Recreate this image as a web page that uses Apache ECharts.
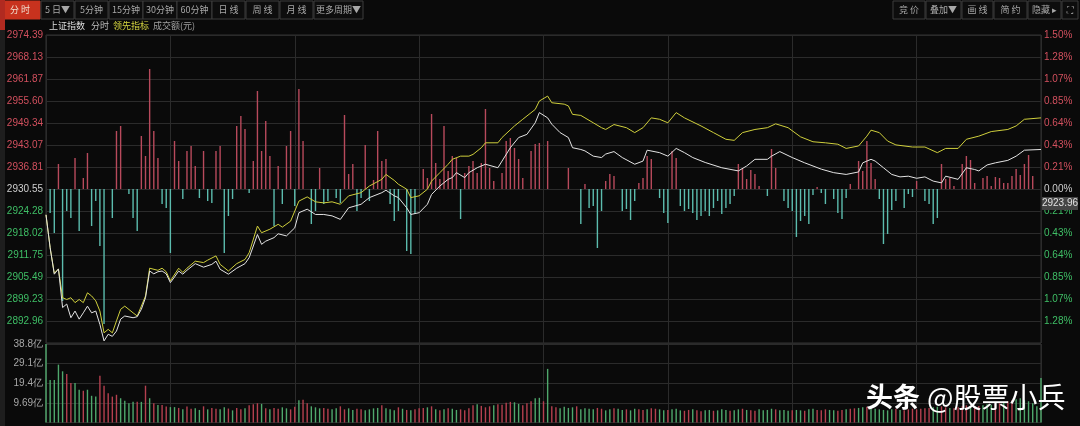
<!DOCTYPE html>
<html><head><meta charset="utf-8">
<script src="https://cdn.jsdelivr.net/npm/echarts@6/dist/echarts.min.js"></script>
<style>html,body{margin:0;padding:0;background:#0a0a0a;}#c{width:1080px;height:426px;}</style>
</head><body><div id="c"></div>
<script>
// ---------------- DATA ----------------
const prevClose = 2930.55;
const step = 6.26286; // index points per grid row
const leftTickLabels = ['2974.39','2968.13','2961.87','2955.60','2949.34','2943.07','2936.81','2930.55','2924.28','2918.02','2911.75','2905.49','2899.23','2892.96',''];
const rightTickLabels = ['1.50%','1.28%','1.07%','0.85%','0.64%','0.43%','0.21%','0.00%','0.21%','0.43%','0.64%','0.85%','1.07%','1.28%',''];
const volTickLabels = ['','9.69亿','19.4亿','29.1亿','38.8亿'];
const legendNames = ['上证指数','分时','领先指标','成交额(元)'];
const lastPriceTag = '2923.96';

// minute index (0 = 09:30, 120 = 11:30/13:00, 240 = 15:00) and index value
const indexMinutes = [0,1,2,3,4,5,6,7,8,9,10,11,12,13,14,15,16,17,18,19,21,22,23,24,25,26,27,28,29,30,31,32,33,34,36,38,40,41,42,44,46,48,49,51,52,53,55,56,58,60,61,63,65,67,69,71,73,76,78,81,82,84,85,87,88,90,92,93,95,97,98,99,101,102,104,106,109,110,112,114,116,118,119,121,122,124,126,127,129,130,132,134,135,137,139,142,144,145,148,150,152,154,156,159,163,167,169,171,174,175,177,180,183,187,190,193,196,197,199,200,202,204,206,208,210,212,214,216,217,220,222,224,225,227,229,232,234,236,240];
const indexValues = [2923.2,2913.8,2906.3,2907.8,2896.8,2897.8,2893.9,2895.8,2893.5,2895.3,2897.2,2895.3,2895.8,2892.0,2887.3,2889.2,2888.6,2890.1,2893.5,2894.4,2893.9,2894.2,2896.3,2899.6,2907.2,2906.4,2907.0,2907.2,2906.4,2903.9,2905.5,2907.2,2906.3,2907.4,2909.3,2908.3,2909.1,2910.0,2907.7,2906.3,2908.0,2909.3,2911.0,2917.6,2914.8,2915.7,2916.7,2917.8,2917.2,2919.5,2923.8,2924.8,2923.3,2923.3,2922.9,2921.9,2925.2,2926.2,2928.1,2929.5,2930.2,2928.6,2928.1,2925.2,2923.3,2923.8,2926.2,2929.0,2931.4,2933.3,2933.8,2935.2,2933.8,2935.2,2936.6,2937.6,2936.6,2938.5,2942.3,2945.2,2946.1,2949.4,2952.3,2950.8,2949.0,2946.6,2945.2,2942.3,2941.8,2941.4,2939.9,2939.5,2940.5,2941.2,2939.5,2937.6,2938.5,2941.6,2940.9,2939.9,2942.1,2940.9,2939.5,2938.1,2936.6,2935.7,2937.1,2939.0,2939.0,2939.9,2941.2,2939.5,2938.0,2936.2,2935.2,2934.7,2935.4,2938.0,2939.0,2938.5,2936.6,2934.7,2934.0,2934.2,2933.6,2934.0,2932.8,2932.3,2934.2,2933.3,2936.6,2936.1,2935.7,2937.4,2938.0,2938.7,2939.9,2941.6,2941.8];

const leadMinutes = [0,1,2,3,4,5,6,7,8,9,10,11,12,13,14,15,16,17,18,19,21,22,23,24,25,27,28,29,30,32,33,34,36,38,39,41,42,44,46,48,49,51,52,54,56,57,59,61,63,65,67,69,71,73,76,78,81,82,84,85,87,88,90,92,93,95,97,98,100,102,103,105,106,109,110,113,115,118,119,121,122,125,126,127,129,130,132,134,135,137,140,142,144,146,148,150,152,154,158,161,164,166,168,171,174,176,179,182,185,188,191,193,196,198,199,201,203,205,209,212,215,217,220,222,225,228,232,234,236,240];
const leadValues = [2923.2,2913.8,2906.6,2907.8,2899.6,2899.1,2899.6,2898.2,2899.1,2898.2,2901.0,2900.1,2898.7,2895.8,2889.6,2890.6,2889.6,2893.0,2896.3,2897.2,2895.3,2894.4,2897.2,2900.1,2908.0,2907.4,2908.0,2907.0,2904.4,2908.0,2906.8,2908.0,2910.0,2909.6,2910.3,2911.5,2909.1,2907.2,2909.3,2910.5,2912.4,2920.0,2918.1,2919.1,2920.5,2919.7,2921.4,2927.1,2928.3,2926.9,2926.6,2926.9,2926.2,2928.6,2929.5,2931.4,2933.3,2934.7,2933.0,2931.9,2930.5,2928.1,2928.6,2930.5,2932.8,2935.2,2937.6,2939.0,2939.9,2939.9,2940.4,2942.3,2943.7,2943.7,2945.2,2948.5,2950.4,2953.2,2955.6,2957.0,2955.1,2954.7,2954.2,2951.8,2951.5,2950.8,2949.4,2948.0,2947.5,2948.9,2948.0,2946.6,2948.0,2950.8,2950.4,2949.4,2952.3,2950.8,2948.5,2946.6,2944.7,2944.4,2946.6,2947.5,2948.0,2949.1,2948.0,2945.4,2944.0,2943.7,2943.3,2942.1,2942.8,2945.6,2947.3,2946.6,2944.2,2943.1,2942.5,2942.5,2940.9,2942.1,2942.1,2944.7,2945.6,2946.9,2947.5,2948.5,2950.4,2950.8];

// red/green strength bars: minute and strength (positive = red, negative = green)
const strengthMinutes = [1,2,3,4,5,6,7,8,9,10,11,12,13,14,16,17,18,20,21,22,23,24,25,26,27,28,29,30,31,32,33,34,35,36,37,38,39,40,41,42,43,44,45,46,47,48,49,50,51,52,53,54,55,56,57,58,59,60,61,62,64,65,66,67,68,70,71,72,73,74,75,76,77,78,79,80,81,82,83,84,85,87,88,89,91,92,93,94,95,96,97,98,99,100,101,102,103,104,105,106,107,108,110,111,112,113,114,115,117,118,119,121,126,129,130,131,132,133,134,135,136,137,139,140,141,142,143,144,145,146,148,149,150,151,152,153,154,155,156,157,158,159,160,161,162,163,164,165,166,167,168,169,170,171,172,174,175,176,178,179,180,181,182,183,184,185,186,187,188,190,191,192,193,194,196,197,198,199,200,201,202,203,204,205,207,208,209,210,212,213,214,215,216,217,218,219,221,222,223,224,226,227,228,229,230,231,232,233,234,235,236,237,238];
const strengthValues = [-24,-44,25,-112,-22,-29,31,-42,11,36,-37,-12,-57,-135,-29,58,63,-5,-29,-42,53,33,120,58,31,-15,-19,-64,48,28,-10,38,43,23,-9,38,-12,-14,38,43,-64,-27,-10,63,73,60,-4,28,98,38,68,33,-37,23,-15,43,58,-17,100,48,-35,-22,21,-15,-12,-9,-14,74,15,25,-22,-9,44,-12,9,58,28,30,-15,-32,-22,-62,-65,-25,20,11,75,26,10,63,18,33,31,-30,16,23,28,16,26,80,21,8,16,48,51,41,30,11,38,45,46,48,21,-35,5,-19,-17,-59,-22,8,15,13,-22,-20,-31,-12,6,11,33,30,-9,-24,-34,38,31,-17,-22,-20,-24,-31,-27,-22,-27,-19,-12,-25,-19,-15,-7,25,21,10,19,15,3,-7,40,21,-12,-19,-22,-48,-32,-27,-35,-6,2,-4,-15,-10,-24,-30,-9,5,28,18,48,26,10,-10,-55,-45,-21,-12,-19,-5,-8,8,-12,-15,-35,-29,25,10,11,3,25,33,29,6,11,13,3,12,11,6,6,13,20,14,25,34,13];

// turnover per minute (亿元), minutes 0..240
const volume = [39,21,21,28.6,25.3,24,19.5,19.5,16.2,15.7,16.2,13.2,12.8,23.1,18.2,14.5,12.8,13.7,12,10.7,9.5,10.2,10.2,10.2,18.2,12,9.5,8.7,8.7,7.9,7.6,
7.6,7.2,6.5,7.9,6.8,7.0,6.2,8.0,6.5,7.2,6.8,6.5,7.5,6.9,6.0,7.2,6.5,7.0,8.5,9.0,9.5,9.2,7.0,6.5,7.2,6.8,7.5,7.0,6.5,7.8,
11,11.2,9.5,8.0,7.5,7.0,7.2,6.8,6.5,7.0,8.0,6.5,7.0,6.2,6.8,6.5,6.0,6.5,7.0,7.2,8.5,7.0,6.5,6.0,7.5,6.8,6.2,6.0,6.5,7.0,
7.2,7.5,8.0,6.5,6.0,6.5,7.0,6.8,6.2,6.5,6.0,7.0,8.5,9.0,8.2,7.5,8.0,8.5,9.0,8.8,9.8,10.2,10.0,9.2,8.5,9.5,10.5,12.0,12.2,10.5,
26.5,8.0,7.5,7.0,7.8,7.2,7.5,8.0,6.5,7.0,6.8,6.5,7.2,6.8,6.0,6.5,7.0,6.8,6.2,6.5,6.0,6.8,6.5,6.2,6.5,7.0,6.8,6.5,6.0,6.2,
6.5,6.8,6.0,5.8,6.2,6.5,6.0,5.5,6.0,6.2,5.8,6.0,6.5,6.2,5.8,6.0,6.5,6.8,6.2,6.0,5.8,6.5,6.0,6.2,6.8,6.5,6.0,6.2,5.8,6.0,
6.2,6.0,5.8,6.5,6.8,6.2,6.0,6.5,6.2,6.0,5.8,6.2,6.5,6.8,7.0,7.2,7.5,7.8,7.0,6.8,6.5,6.2,6.0,6.5,6.8,6.2,6.0,6.5,6.8,6.5,
6.8,7.0,7.2,7.5,7.8,8.0,7.5,7.2,7.0,7.5,8.0,8.5,8.0,7.8,8.2,8.5,9.0,8.8,9.2,9.5,10.0,10.5,11.0,11.5,12.0,11.0,10.5,9.5,8.0,22];
// price direction of each minute: u = up (red), d = down (green)
const volumeDir = 'ddddduudduddduuuuuddddudududuudduduudduduudduduuduuududuudduuduuddduudduudduuddddudddududuuududududduuuuduuuduuuudduuudduduuddddudddduudduddudduuduudduddduuduuddudddudduduudddduddduddudduuudduuduuddudddddduduuuuuuudduuduuuuduuddduuduu';

// ---------------- CHART ----------------
const toU = p => (p - prevClose) / step;
const chart = echarts.init(document.getElementById('c'), null, {renderer: 'canvas'});
const RED = '#d2505e', GRN = '#3fbf66', GRID = '#2b2b2b';
const labelColor = v => (Math.round(v) > 0 ? RED : Math.round(v) < 0 ? GRN : '#cfcfcf');

function button(x, w, txt, active) {
  return {type: 'group', children: [
    {type: 'rect', shape: {x: x, y: 1, width: w, height: 18},
      style: {fill: active ? '#c8321e' : '#0d0d0d', stroke: active ? '#c8321e' : '#3c3c3c', lineWidth: 1}},
    {type: 'text', x: x + w / 2, y: 10, style: {text: txt, fill: active ? '#f0e0d0' : '#a8a8a8', font: '9px "Noto Sans CJK SC"', textAlign: 'center', textVerticalAlign: 'middle'}}
  ]};
}
const topButtons = [[0,40,'分 时',true],[41,33,'5 日▼'],[75,33,'5分钟'],[109,34,'15分钟'],[143,34,'30分钟'],[177,35,'60分钟'],[212,33,'日 线'],[246,33,'周 线'],[280,33,'月 线'],[314,49,'更多周期▼'],
  [893,32,'竞 价'],[926,35,'叠加▼'],[962,31,'画 线'],[994,33,'简 约'],[1028,33,'隐藏 ▸'],[1062,16,'⛶']];
const legendX = [49, 91, 113, 153];
const legendCol = ['#dcdcdc', '#bdbdbd', '#d6d640', '#a0a0a0'];

const graphics = topButtons.map(b => button(b[0], b[1], b[2], b[3]));
legendNames.forEach((n, i) => graphics.push({type: 'text', x: legendX[i], y: 26,
  style: {text: n, fill: legendCol[i], font: '9px "Noto Sans CJK SC"', textVerticalAlign: 'middle'}}));
graphics.push({type: 'rect', shape: {x: 0, y: 0, width: 5, height: 30}, style: {fill: '#b02a20'}});
graphics.push({type: 'rect', shape: {x: 0, y: 30, width: 5, height: 396}, style: {fill: '#1e1e1e'}});
graphics.push({type: 'rect', shape: {x: 1042, y: 197, width: 36, height: 13}, style: {fill: '#454545'}, z: 100});
graphics.push({type: 'text', x: 1060, y: 203.5, z: 101, style: {text: lastPriceTag, fill: '#e0e0e0', font: '10px "Liberation Sans"', textAlign: 'center', textVerticalAlign: 'middle'}});
graphics.push({type: 'text', x: 866, y: 397, z: 120, style: {text: '头条', fill: '#ffffff', font: 'bold 27px "Noto Sans CJK SC"', textVerticalAlign: 'middle'}});
graphics.push({type: 'text', x: 927, y: 397, z: 120, style: {text: '@股票小兵', fill: '#ffffff', font: '28px "Noto Sans CJK SC"', textVerticalAlign: 'middle'}});

const xBase = {type: 'value', min: 0, max: 240, interval: 30, axisLabel: {show: false}, axisTick: {show: false},
  axisLine: {show: false}, splitLine: {show: true, lineStyle: {color: GRID, width: 1}}};

chart.setOption({
  backgroundColor: '#0a0a0a',
  animation: false,
  graphic: graphics,
  grid: [
    {left: 46, right: 39, top: 35, height: 308, show: true, borderColor: '#333', borderWidth: 1, backgroundColor: 'transparent'},
    {left: 46, right: 39, top: 344, height: 78.5, show: true, borderColor: '#333', borderWidth: 1}
  ],
  xAxis: [Object.assign({gridIndex: 0}, xBase), Object.assign({gridIndex: 1}, xBase)],
  yAxis: [
    {gridIndex: 0, type: 'value', min: -7, max: 7, interval: 1, position: 'left',
      axisLine: {show: false}, axisTick: {show: false},
      splitLine: {lineStyle: {color: GRID}},
      axisLabel: {margin: 3, fontSize: 10, fontFamily: 'Liberation Sans', formatter: v => leftTickLabels[Math.round(7 - v)], color: labelColor}},
    {gridIndex: 0, type: 'value', min: -7, max: 7, interval: 1, position: 'right',
      axisLine: {show: false}, axisTick: {show: false}, splitLine: {show: false},
      axisLabel: {margin: 3, fontSize: 10, fontFamily: 'Liberation Sans', formatter: v => rightTickLabels[Math.round(7 - v)], color: labelColor}},
    {gridIndex: 0, type: 'value', min: -154, max: 154, show: false},
    {gridIndex: 1, type: 'value', min: 0, max: 38.8, interval: 9.7, position: 'left',
      axisLine: {show: false}, axisTick: {show: false}, splitLine: {lineStyle: {color: GRID}},
      axisLabel: {margin: 3, fontSize: 10, fontFamily: 'Liberation Sans', color: '#a8a8a8', formatter: v => volTickLabels[Math.round(v / 9.7)]}}
  ],
  series: [
    {type: 'bar', xAxisIndex: 0, yAxisIndex: 2, barWidth: 1.4,
      data: strengthMinutes.map((m, i) => [m, strengthValues[i]]),
      itemStyle: {color: p => p.value[1] >= 0 ? '#b84a5c' : '#5cbcae'}},
    {type: 'line', xAxisIndex: 0, yAxisIndex: 0, symbol: 'none', z: 5,
      data: indexMinutes.map((m, i) => [m, toU(indexValues[i])]),
      lineStyle: {color: '#e4e4e4', width: 1}},
    {type: 'line', xAxisIndex: 0, yAxisIndex: 0, symbol: 'none', z: 4,
      data: leadMinutes.map((m, i) => [m, toU(leadValues[i])]),
      lineStyle: {color: '#cfcf3c', width: 1}},
    {type: 'bar', xAxisIndex: 1, yAxisIndex: 3, barWidth: 1.4,
      data: volume.map((v, i) => [i, v]),
      itemStyle: {color: p => volumeDir.charAt(p.dataIndex) === 'u' ? '#b5404f' : '#4fa86c'}}
  ]
});
</script></body></html>
